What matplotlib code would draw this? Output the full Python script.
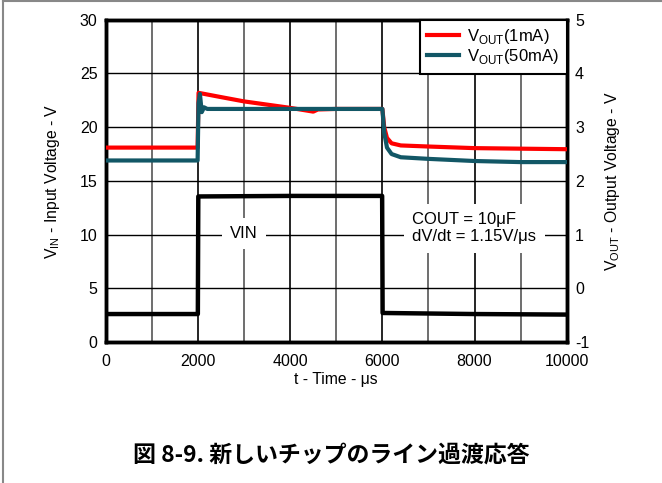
import matplotlib.pyplot as plt
from matplotlib.lines import Line2D

plt.rcParams['font.family'] = ['Liberation Sans', 'DejaVu Sans']
plt.rcParams['axes.unicode_minus'] = False

# time in microseconds
t_vin = [0, 1995, 2005, 4000, 5995, 6005, 8000, 10000]
vin = [2.6, 2.6, 13.55, 13.6, 13.6, 2.7, 2.6, 2.55]

t_1ma = [0, 1990, 2010, 2500, 3000, 3500, 4000, 4500, 4600, 5000, 6000,
         6040, 6100, 6200, 6400, 7000, 8000, 9000, 10000]
v_1ma = [2.62, 2.62, 3.64, 3.56, 3.48, 3.42, 3.36, 3.29, 3.33, 3.34, 3.34,
         3.0, 2.8, 2.7, 2.66, 2.64, 2.61, 2.60, 2.59]

t_50ma = [0, 1990, 2010, 2040, 2080, 2130, 2200, 4000, 6000,
          6040, 6100, 6200, 6400, 7000, 8000, 9000, 10000]
v_50ma = [2.38, 2.38, 3.45, 3.62, 3.28, 3.37, 3.34, 3.34, 3.34,
          2.9, 2.62, 2.50, 2.44, 2.41, 2.37, 2.35, 2.35]

xticks = [0, 2000, 4000, 6000, 8000, 10000]
yticks_left = [0, 5, 10, 15, 20, 25, 30]
yticks_right = [-1, 0, 1, 2, 3, 4, 5]

fig = plt.figure(figsize=(6.62, 4.83), dpi=100)
ax = fig.add_axes([0.160, 0.292, 0.696, 0.667])

# grid
for x in range(1000, 10000, 1000):
    ax.axvline(x, color='#555555' if x % 2000 else 'black', lw=1.2, zorder=1)
for y in range(5, 30, 5):
    ax.axhline(y, color='black', lw=1.0, zorder=1)

ax.plot(t_vin, vin, color='black', lw=3.2, zorder=3)
ax.set_xlim(0, 10000)
ax.set_ylim(0, 30)
ax.set_xticks(xticks)
ax.set_yticks(yticks_left)
ax.tick_params(labelsize=11.5, length=0, pad=6)
ax.tick_params(axis='x', pad=9)
ax.set_xlabel('t - Time - μs', fontsize=11.3, labelpad=2)
ax.set_ylabel(r'V$_\mathregular{IN}$ - Input Voltage - V', fontsize=11.3, labelpad=13)

ax2 = ax.twinx()
ax2.plot(t_1ma, v_1ma, color='#ff0000', lw=3, zorder=3)
ax2.plot(t_50ma, v_50ma, color='#125766', lw=3, zorder=4)
ax2.set_ylim(-1, 5)
ax2.set_yticks(yticks_right)
ax2.tick_params(labelsize=11.5, length=0, pad=6)
ax2.set_ylabel(r'V$_\mathregular{OUT}$ - Output Voltage - V', fontsize=11.3, labelpad=10)

for a in (ax, ax2):
    for s in a.spines.values():
        s.set_linewidth(2.5)

ax.text(3000, 10.1, 'VIN', fontsize=12, ha='center', va='center', zorder=5,
        bbox=dict(facecolor='white', edgecolor='none', pad=6))
ax.text(6650, 10.6, 'COUT = 10μF\ndV/dt = 1.15V/μs', fontsize=12, ha='left',
        va='center', zorder=5, linespacing=1.2,
        bbox=dict(facecolor='white', edgecolor='none', pad=6))

handles = [Line2D([], [], color='#ff0000', lw=3),
           Line2D([], [], color='#125766', lw=3)]
leg = ax2.legend(handles, [r'V$_\mathregular{OUT}$(1mA)', r'V$_\mathregular{OUT}$(50mA)'],
                 loc='upper right', fontsize=12, fancybox=False, framealpha=1,
                 edgecolor='black', borderaxespad=0, handlelength=1.9,
                 handletextpad=0.5, labelspacing=0.05, borderpad=0.45)
leg.get_frame().set_linewidth(1.5)

fig.text(0.5, 0.058, '図 8-9. 新しいチップのライン過渡応答', ha='center', va='center',
         fontsize=16.5, fontweight='bold', family=['Noto Sans CJK JP', 'DejaVu Sans'])

# figure border (left and top)
fig.add_artist(Line2D([0.004, 0.004], [0, 0.998], color='#888888', lw=1.5))
fig.add_artist(Line2D([0.004, 1], [0.998, 0.998], color='#888888', lw=1.5))

fig.savefig('out.png', dpi=100)
